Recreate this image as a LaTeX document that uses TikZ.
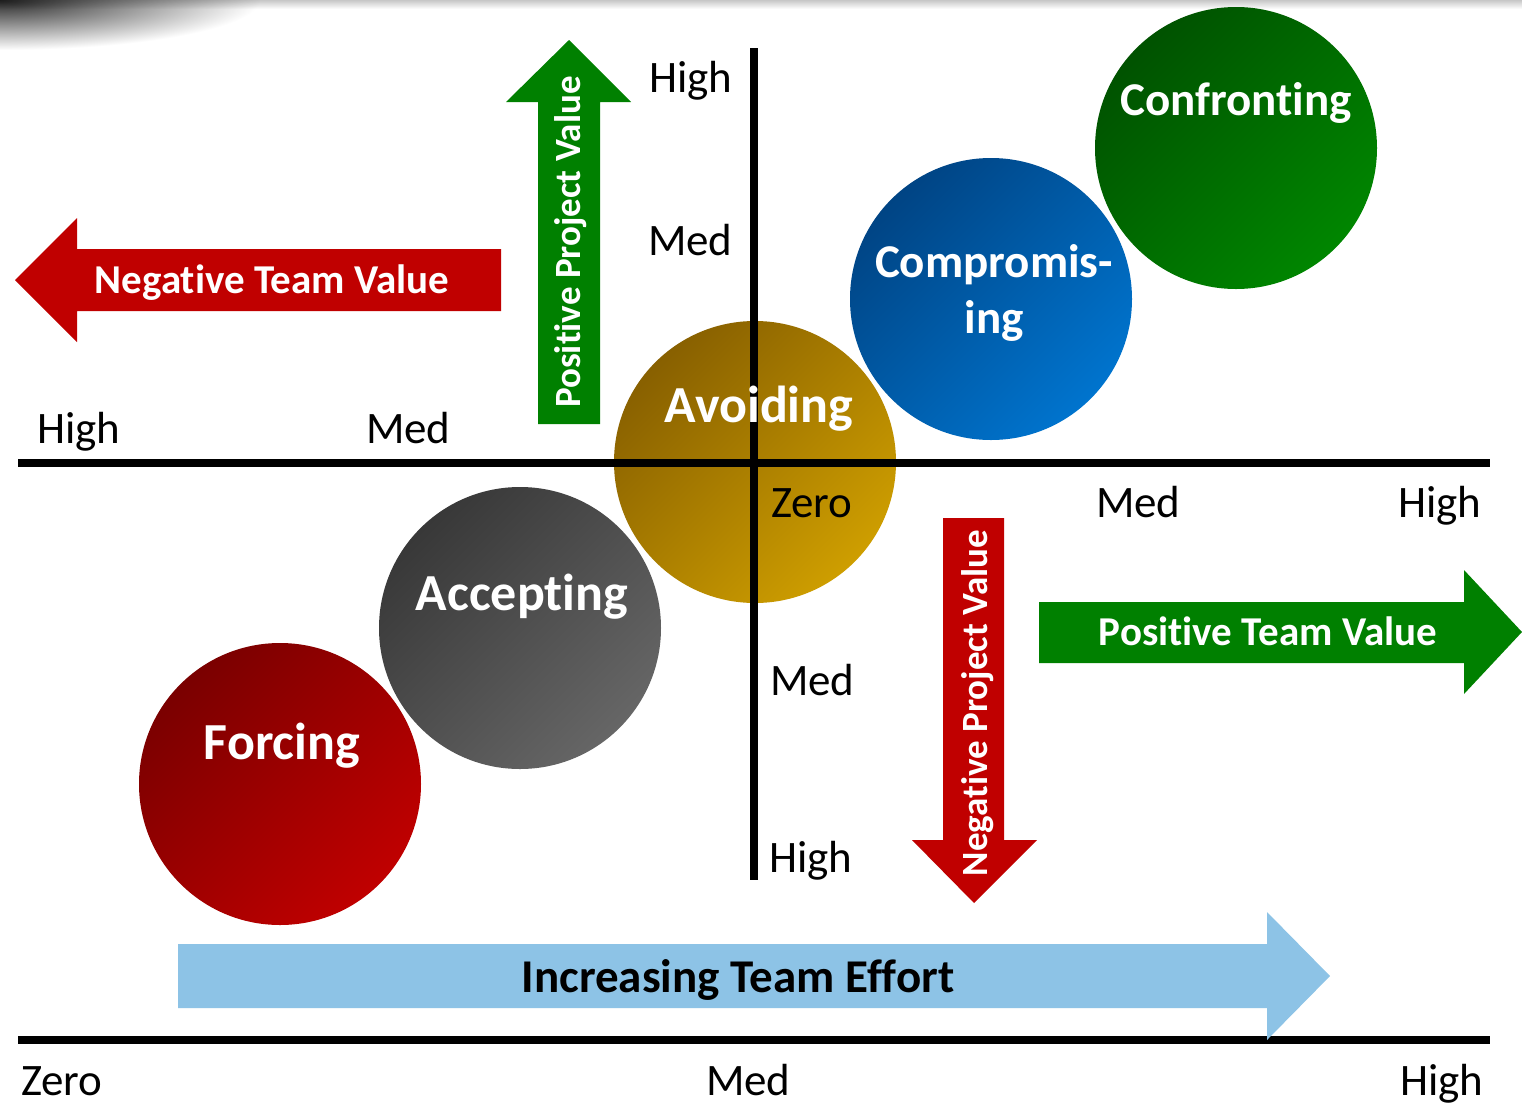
\documentclass[tikz,border=0pt]{standalone}
\usepackage{fontspec}
\setmainfont{Carlito}[Ligatures=NoCommon]

\definecolor{conflictred}{HTML}{C00000}
\definecolor{conflictgreen}{HTML}{008000}
\definecolor{effortblue}{HTML}{8DC3E6}
\definecolor{forcingdark}{HTML}{7A0000}
\definecolor{acceptingdark}{HTML}{383838}
\definecolor{acceptinglight}{HTML}{666666}
\definecolor{avoidingdark}{HTML}{886000}
\definecolor{avoidinglight}{HTML}{CE9E00}
\definecolor{compromisingdark}{HTML}{004484}
\definecolor{compromisinglight}{HTML}{0074CE}
\definecolor{confrontingdark}{HTML}{005200}
\definecolor{confrontinglight}{HTML}{008600}

\tikzset{
  blob/.style 2 args={circle,minimum size=141pt,inner sep=0pt,top color=#1,bottom color=#2,shading angle=45},
  blobtext/.style={anchor=base,text=white,font=\bfseries\fontsize{26}{30}\selectfont},
  smallblobtext/.style={blobtext,font=\bfseries\fontsize{23.5}{28}\selectfont},
  axislabel/.style={anchor=base west,xshift=-4pt,font=\fontsize{22.5}{27}\selectfont},
  arrowtext/.style={anchor=base,text=white,font=\bfseries\fontsize{20.5}{24}\selectfont},
  axisline/.style={line width=3.75pt}
}

\begin{document}
\begin{tikzpicture}[x=0.5pt,y=-0.5pt]
\useasboundingbox (0,0) rectangle (1522,1104);
\fill[white] (0,0) rectangle (1522,1104);
% shadow along the top edge
\shade[inner color=black!85,outer color=white] (-260,-50) rectangle (260,50);
\shade[blend mode=multiply,top color=black!22,bottom color=white] (0,0) rectangle (1522,9);

% the five styles
\node[blob={forcingdark}{conflictred}] (forcing) at (280,784) {};
\node[blob={acceptingdark}{acceptinglight}] (accepting) at (520,628) {};
\node[blob={avoidingdark}{avoidinglight}] (avoiding) at (755,462) {};
\node[blob={compromisingdark}{compromisinglight}] (compromising) at (991,299) {};
\node[blob={confrontingdark}{confrontinglight}] (confronting) at (1236,148) {};

% axes
\draw[axisline] (18,463) -- (1490,463);
\draw[axisline] (754,48) -- (754,880);
\draw[axisline] (18,1040) -- (1490,1040);

% block arrows
\fill[conflictred] (501,249) -- (77,249) -- (77,218) -- (15,280) -- (77,342) -- (77,311) -- (501,311) -- cycle;
\fill[conflictgreen] (538,424) -- (538,102) -- (506,102) -- (569,40) -- (631,102) -- (600,102) -- (600,424) -- cycle;
\fill[conflictred] (943,518) -- (943,840) -- (912,840) -- (974,903) -- (1037,840) -- (1004,840) -- (1004,518) -- cycle;
\fill[conflictgreen] (1039,602) -- (1464,602) -- (1464,570) -- (1522,632) -- (1464,694) -- (1464,663) -- (1039,663) -- cycle;
\fill[effortblue] (178,944) -- (1267,944) -- (1267,912) -- (1330,976) -- (1267,1040) -- (1267,1008) -- (178,1008) -- cycle;

\node[arrowtext] (negteam) at (272,293) {Negative Team Value};
\node[arrowtext] (posteam) at (1268,645) {Positive Team Value};
\node[arrowtext,rotate=90,font=\bfseries\fontsize{18.5}{22}\selectfont] (posproject) at (580,242) {Positive Project Value};
\node[arrowtext,rotate=90,font=\bfseries\fontsize{18.5}{22}\selectfont] (negproject) at (987,703) {Negative Project Value};
\node[arrowtext,text=black,font=\bfseries\fontsize{23.5}{28}\selectfont] (effort) at (738,992) {Increasing Team Effort};

% style names
\node[blobtext] (forcinglabel) at (282,759) {Forcing};
\node[blobtext] (acceptinglabel) at (522,610) {Accepting};
\node[blobtext] (avoidinglabel) at (759,422) {Avoiding};
\node[smallblobtext,align=center] (compromisinglabel) at (994,333) {Compromis-\\ing};
\node[smallblobtext] (confrontinglabel) at (1236,115) {Confronting};

% scale marks
\node[axislabel] (projhigh) at (650,92) {High};
\node[axislabel] (projmed) at (649,255) {Med};
\node[axislabel] (teamneghigh) at (38,443) {High};
\node[axislabel] (teamnegmed) at (367,443) {Med};
\node[axislabel] (zero) at (772,517) {Zero};
\node[axislabel] (teamposmed) at (1097,517) {Med};
\node[axislabel] (teamposhigh) at (1399,517) {High};
\node[axislabel] (negprojmed) at (771,695) {Med};
\node[axislabel] (negprojhigh) at (770,872) {High};
\node[axislabel] (effortzero) at (22,1095) {Zero};
\node[axislabel] (effortmed) at (707,1095) {Med};
\node[axislabel] (efforthigh) at (1401,1095) {High};
\end{tikzpicture}
\end{document}
